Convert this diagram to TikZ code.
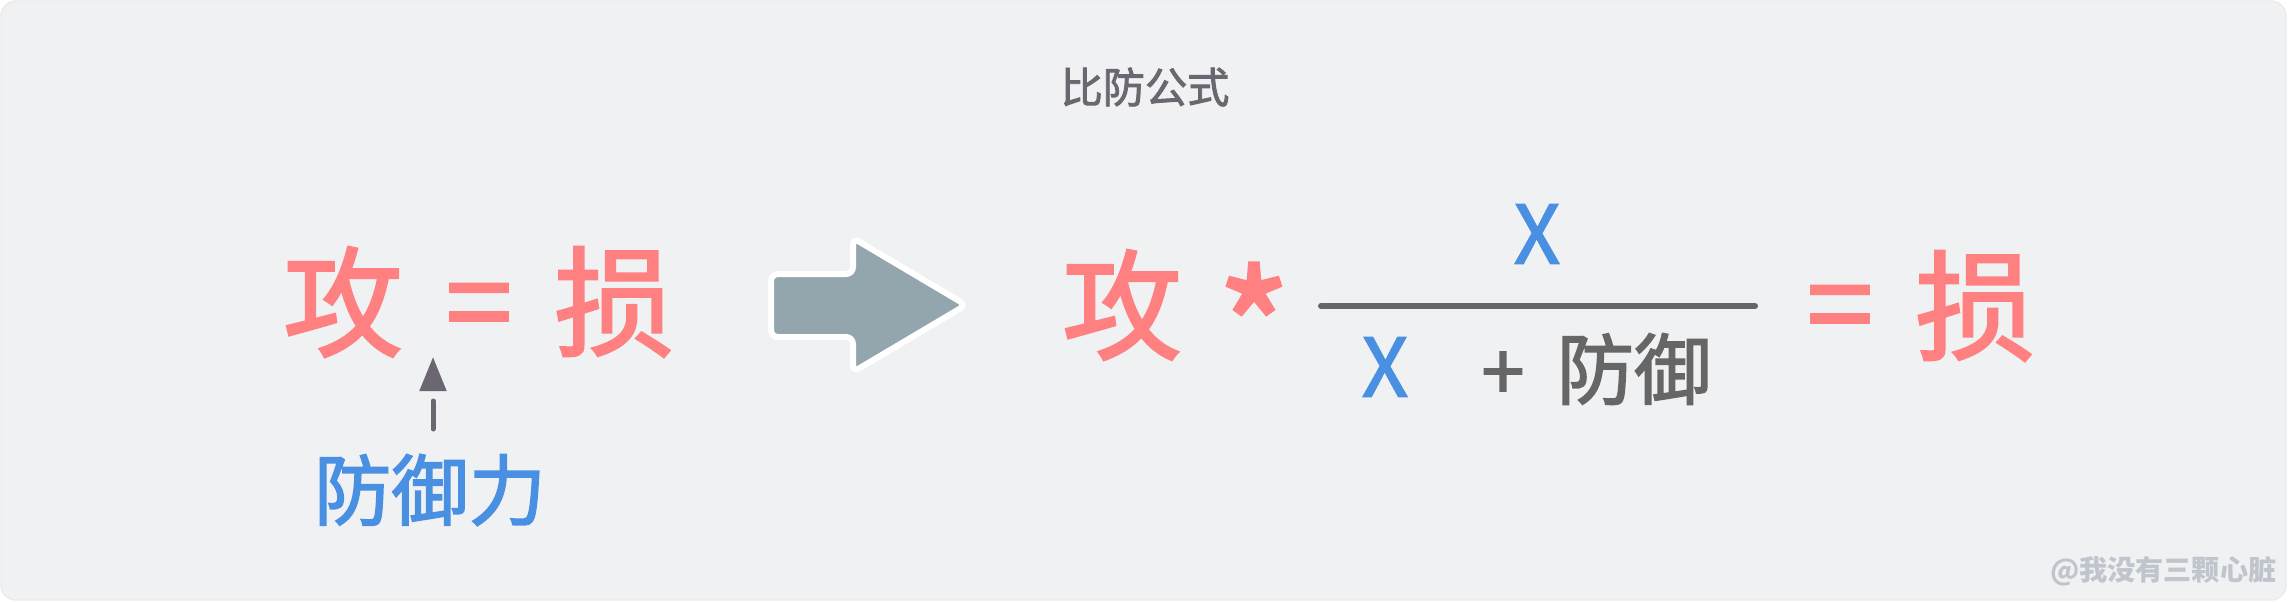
\documentclass[tikz,border=0pt]{standalone}
\usepackage{fontspec}
\setmainfont{Noto Sans CJK SC}
\newfontfamily\medfont{Noto Sans CJK SC}[FakeBold=2]
\usetikzlibrary{arrows.meta}
\definecolor{bgcol}{HTML}{F0F1F3}
\definecolor{salmon}{HTML}{FF8080}
\definecolor{defblue}{HTML}{4A90E2}
\definecolor{titlegray}{HTML}{6B6770}
\definecolor{darkgray}{HTML}{666666}
\definecolor{arrowfill}{HTML}{93A6AE}
\definecolor{markgray}{HTML}{C0C4CC}
\tikzset{>=Stealth,every node/.style={inner sep=0pt},
bigchar/.style={font=\medfont\fontsize{34pt}{34pt}\selectfont,text=salmon},
midchar/.style={font=\medfont\fontsize{22pt}{22pt}\selectfont},
hint/.style={line width=.5mm,titlegray,line cap=round,dash pattern=on 2.8mm off 4mm,-{Triangle[length=3.4mm,width=2.6mm]}},
fracbar/.style={line width=.6mm,darkgray,line cap=round}}

\begin{document}
\begin{tikzpicture}[x=.1mm,y=-.1mm]
\useasboundingbox (0,0) rectangle (2288,602);
\fill[white] (0,0) rectangle (2288,602);
\draw[fill=bgcol,draw=black!8,rounded corners=1.5mm] (1,1) rectangle (2286,600);
\node[font=\medfont\fontsize{12pt}{12pt}\selectfont,text=titlegray] (title) at (1145,87) {比防公式};
% left side
\node[bigchar] (gongA) at (343,302) {攻};
\node[bigchar] (eqA) at (479,315) {=};
\node[bigchar] (sunA) at (614,302) {损};
\node[midchar,text=defblue] (defl) at (430,490) {防御力};
\coordinate (hintS) at (433,429);\coordinate (hintE) at (433,357);
\draw[hint] (hintS) -- (hintE);
% big arrow
\draw[fill=arrowfill,draw=white,line width=.6mm,rounded corners=.7mm] (771,274)--(853,274)--(853,238)--(966,305)--(853,372)--(853,337)--(771,337)--cycle;
% right side
\node[bigchar] (gongB) at (1122,305) {攻};
\node[bigchar,font=\medfont\fontsize{45pt}{45pt}\selectfont] (star) at (1254,326) {*};
\draw[fracbar] (1321,306) -- (1755,306);
\node[midchar,text=defblue,font=\medfont\fontsize{23pt}{23pt}\selectfont] (numX) at (1537,234) {X};
\node[midchar,text=defblue,font=\medfont\fontsize{23pt}{23pt}\selectfont] (denX) at (1385,367) {X};
\node[midchar,text=darkgray] (plus) at (1503,376) {+};
\node[midchar,text=darkgray] (fang) at (1634,369) {防御};
\node[bigchar] (eqB) at (1840,317) {=};
\node[bigchar] (sunB) at (1975,306) {损};
\node[font=\fontsize{8pt}{8pt}\selectfont\bfseries,text=markgray,anchor=east] (mark) at (2277,571) {@我没有三颗心脏};
\end{tikzpicture}
\end{document}
